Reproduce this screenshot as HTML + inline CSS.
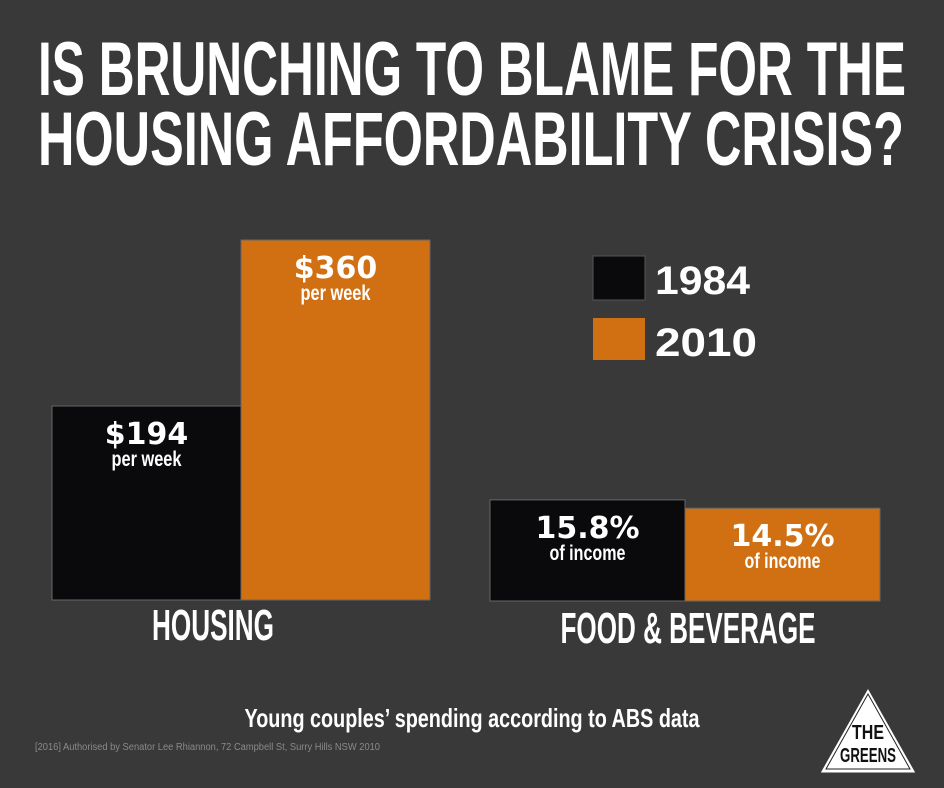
<!DOCTYPE html>
<html><head><meta charset="utf-8"><style>
body{margin:0;background:#393939;}
svg{display:block;font-family:"Liberation Sans Narrow","Liberation Sans",sans-serif;}
</style></head><body>
<svg id="chart" width="944" height="788" viewBox="0 0 944 788">
<rect width="944" height="788" fill="#393939"/>
<text x="38" y="95" textLength="868" lengthAdjust="spacingAndGlyphs" font-size="76" font-weight="bold" fill="#fff">IS BRUNCHING TO BLAME FOR THE</text>
<text x="38" y="165" textLength="866" lengthAdjust="spacingAndGlyphs" font-size="76" font-weight="bold" fill="#fff">HOUSING AFFORDABILITY CRISIS?</text>
<g id="bars"></g>
<rect x="593" y="256" width="52" height="44" fill="#0a0a0c" stroke="#555"/>
<text x="655" y="294" font-size="40" font-weight="bold" fill="#fff" font-family="Liberation Sans, sans-serif" textLength="95" lengthAdjust="spacingAndGlyphs">1984</text>
<rect x="593" y="318" width="52" height="42" fill="#d07013"/>
<text x="655" y="356" font-size="40" font-weight="bold" fill="#fff" font-family="Liberation Sans, sans-serif" textLength="102" lengthAdjust="spacingAndGlyphs">2010</text>
<text x="213" y="640" text-anchor="middle" font-size="44" font-weight="bold" fill="#fff" textLength="122" lengthAdjust="spacingAndGlyphs">HOUSING</text>
<text x="688" y="643" text-anchor="middle" font-size="44" font-weight="bold" fill="#fff" textLength="255" lengthAdjust="spacingAndGlyphs">FOOD &amp; BEVERAGE</text>
<text x="472" y="727" text-anchor="middle" font-size="26" font-weight="bold" fill="#fff" textLength="455" lengthAdjust="spacingAndGlyphs">Young couples’ spending according to ABS data</text>
<text x="35" y="750" font-size="10" fill="#8a8a8a" font-family="Liberation Sans, sans-serif" textLength="345" lengthAdjust="spacingAndGlyphs">[2016] Authorised by Senator Lee Rhiannon, 72 Campbell St, Surry Hills NSW 2010</text>
<g>
<polygon points="868,688 820,773 916,773" fill="#fff" stroke="#393939" stroke-width="1"/>
<polygon points="868,694 826,769 910,769" fill="none" stroke="#222" stroke-width="1"/>
<text x="868" y="739" text-anchor="middle" font-size="20" font-weight="bold" fill="#111" textLength="32" lengthAdjust="spacingAndGlyphs">THE</text>
<text x="868" y="762" text-anchor="middle" font-size="20" font-weight="bold" fill="#111" textLength="56" lengthAdjust="spacingAndGlyphs">GREENS</text>
</g>
</svg>
<script>
const housingValues = [194, 360];
const housingLabels = ["$194", "$360"];
const foodValues = [15.8, 14.5];
const foodLabels = ["15.8%", "14.5%"];
const seriesNames = ["1984", "2010"];
const colors = ["#0a0a0c", "#d07013"];
const NS = "http://www.w3.org/2000/svg";
const g = document.getElementById("bars");
function yHousing(v){ return 600 - v * 1.0; }
function yFood(v){ return 601 - v * 6.4; }
function mk(tag, attrs){ const e=document.createElementNS(NS,tag); for(const k in attrs) e.setAttribute(k,attrs[k]); g.appendChild(e); return e; }
function group(values, labels, yFn, base, x0, w, sub, subW, cat){
  values.forEach((v,i)=>{
    const x = x0 + i*w, y = yFn(v);
    const r = mk("rect",{x:x,y:y,width:w,height:base-y,fill:colors[i],stroke:"#666","stroke-width":1});
    
    
    const t = mk("text",{x:x+w/2,y:y+38,"text-anchor":"middle","font-size":30,"font-weight":"bold",fill:"#fff","font-family":"DejaVu Sans, sans-serif"});
    t.textContent = labels[i];
    
    
    const s = mk("text",{x:x+w/2,y:y+60,"text-anchor":"middle","font-size":21,"font-weight":"bold",fill:"#fff",textLength:subW,lengthAdjust:"spacingAndGlyphs"});
    s.textContent = sub;
    
    
  });
}
group(housingValues, housingLabels, yHousing, 600, 52, 189, "per week", 70, "housing");
group(foodValues, foodLabels, yFood, 601, 490, 195, "of income", 76, "food");
</script>
</body></html>
